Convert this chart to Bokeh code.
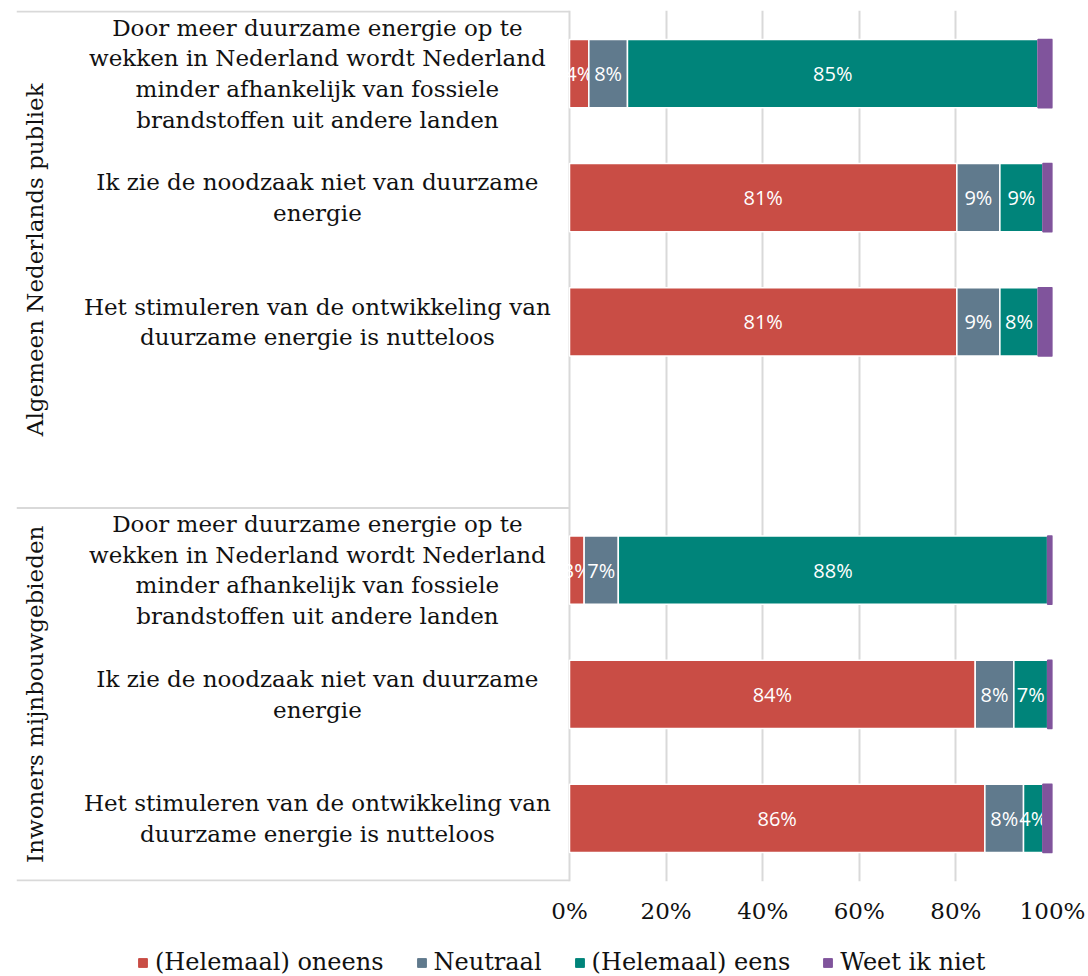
import math
from bokeh.plotting import figure
from bokeh.layouts import column
from bokeh.models import Range1d, FixedTicker, ColumnDataSource, Legend, LegendItem
from bokeh.core.properties import value
from bokeh.embed import file_html
from bokeh.resources import INLINE

# ---------------- data ----------------
groups = ["Algemeen Nederlands publiek", "Inwoners mijnbouwgebieden"]
group_slots = [4, 3]  # group 1 has an empty fourth row
statements = [
    "Door meer duurzame energie op te\nwekken in Nederland wordt Nederland\nminder afhankelijk van fossiele\nbrandstoffen uit andere landen",
    "Ik zie de noodzaak niet van duurzame\nenergie",
    "Het stimuleren van de ontwikkeling van\nduurzame energie is nutteloos",
]
series = ["(Helemaal) oneens", "Neutraal", "(Helemaal) eens", "Weet ik niet"]
colors = ["#C94D45", "#607A8D", "#00847A", "#80549C"]
oneens = [4, 81, 81, 3, 84, 86]
neutraal = [8, 9, 9, 7, 8, 8]
eens = [85, 9, 8, 88, 7, 4]
weet_niet = [3, 2, 3, 1, 1, 2]
labelled = [True, True, True, False]
x_ticks = [0, 20, 40, 60, 80, 100]
tick_labels = ["0%", "20%", "40%", "60%", "80%", "100%"]

SERIF = value("DejaVu Serif")
SANS = value("Open Sans")

# ---------------- layout of rows ----------------
ys = []
cat_text = []
offset = 0
for n in group_slots:
    for i, s in enumerate(statements):
        ys.append(offset + i + 0.5)
        cat_text.append(s)
    offset += n
total_slots = offset
boundaries = [0] + [sum(group_slots[:k + 1]) for k in range(len(group_slots))]
group_centers = [(boundaries[k] + boundaries[k + 1]) / 2 for k in range(len(group_slots))]

values = [oneens, neutraal, eens, weet_niet]
totals = [sum(v[i] for v in values) for i in range(len(ys))]

XMIN = -114.5
pad = 0.008
p = figure(
    width=1088, height=946,
    x_range=Range1d(XMIN, 100), y_range=Range1d(total_slots + pad, -pad),
    output_backend="svg", toolbar_location=None, y_axis_location=None,
    min_border_left=16, min_border_right=36, min_border_top=10, min_border_bottom=65,
    background_fill_color="white", border_fill_color="white",
)
p.outline_line_color = None
p.ygrid.visible = False
p.xgrid.ticker = FixedTicker(ticks=x_ticks)
p.xgrid.grid_line_color = "#D9D9D9"
p.xgrid.grid_line_width = 2

p.xaxis.ticker = FixedTicker(ticks=x_ticks)
p.xaxis.major_label_overrides = {t: l for t, l in zip(x_ticks, tick_labels)}
p.xaxis.axis_line_color = None
p.xaxis.major_tick_line_color = None
p.xaxis.minor_tick_line_color = None
p.xaxis.major_tick_out = 0
p.xaxis.minor_tick_out = 0
p.xaxis.major_label_text_font = "DejaVu Serif"
p.xaxis.major_label_text_font_size = "23px"
p.xaxis.major_label_text_color = "#111111"
p.xaxis.major_label_standoff = 16

# frame lines on the label side
p.segment(x0=[XMIN] * len(boundaries), y0=boundaries, x1=[0] * len(boundaries), y1=boundaries,
          line_color="#D9D9D9", line_width=2)

# stacked bars (100% stacked)
cum = [0.0] * len(ys)
for k, (name, vals, col) in enumerate(zip(series, values, colors)):
    left = [cum[i] for i in range(len(ys))]
    right = [cum[i] + vals[i] / totals[i] * 100 for i in range(len(ys))]
    cum = right
    src = ColumnDataSource(dict(y=ys, left=left, right=right,
                                mid=[(a + b) / 2 for a, b in zip(left, right)],
                                lab=[f"{v}%" for v in vals]))
    is_last = k == len(series) - 1
    p.hbar(y="y", left="left", right="right", height=0.55, source=src,
           fill_color=col, line_color=col if is_last else "white", line_width=1.5)
    if labelled[k]:
        p.text(x="mid", y="y", text="lab", source=src, text_color="white",
               text_font=SANS, text_font_size="20px", text_align="center",
               text_baseline="middle")

# category labels
p.text(x=[-52.2] * len(ys), y=ys, text=cat_text, text_font=SERIF, text_font_size="23px",
       text_color="#111111", text_align="center", text_baseline="middle",
       text_line_height=1.18)

# group labels
p.text(x=[-110.6] * len(groups), y=group_centers, text=groups, angle=math.pi / 2,
       text_font=SERIF, text_font_size="23px", text_color="#111111",
       text_align="center", text_baseline="middle")

# ---------------- legend strip ----------------
lg = figure(width=1088, height=30, output_backend="svg", toolbar_location=None,
            x_axis_location=None, y_axis_location=None,
            x_range=Range1d(0, 1), y_range=Range1d(0, 1),
            min_border_left=0, min_border_right=0, min_border_top=0, min_border_bottom=0,
            background_fill_color="white", border_fill_color="white")
lg.outline_line_color = None
lg.xgrid.visible = False
lg.ygrid.visible = False
items = []
for name, col in zip(series, colors):
    # legend proxy glyph, kept outside the strip's visible range
    r = lg.hbar(y=[-5], left=[0], right=[1], height=0.5, fill_color=col, line_color=col)
    items.append(LegendItem(label=name, renderers=[r]))
legend = Legend(items=items, orientation="horizontal", location=(121, 0),
                glyph_width=11, glyph_height=11, label_standoff=7, spacing=32,
                label_text_font="DejaVu Serif", label_text_font_size="24px",
                label_text_color="#111111", border_line_color=None,
                background_fill_alpha=0, padding=2, margin=0)
lg.add_layout(legend, "center")

open("out.html", "w").write(file_html(column(p, lg, spacing=0), INLINE))
